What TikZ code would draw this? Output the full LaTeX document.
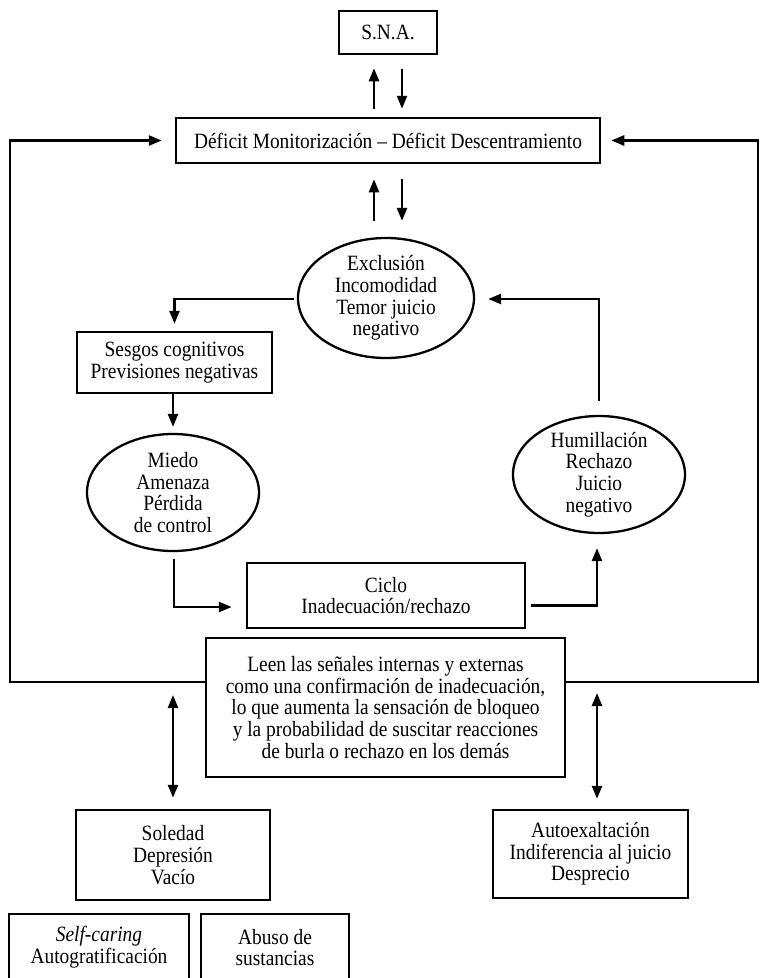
\documentclass[tikz,border=0pt]{standalone}
\usepackage{fontspec}
\setmainfont[FakeStretch=0.89]{Liberation Serif}
\usetikzlibrary{arrows.meta,calc,shapes.geometric}
\begin{document}
\begin{tikzpicture}[x=1pt,y=-1pt,
  every node/.style={font=\fontsize{21.8pt}{21.7pt}\selectfont, align=center, inner sep=0pt},
  boxnode/.style={draw, line width=2.5pt, rectangle},
  ellnode/.style={draw, line width=2.3pt, ellipse},
  arr/.style={line width=2.5pt, -{Triangle[length=13pt,width=10pt]}},
  darr/.style={line width=2.5pt, {Triangle[length=13pt,width=10pt]}-{Triangle[length=13pt,width=10pt]}},
]
\useasboundingbox (0,0) rectangle (760,978);
\clip (0,0) rectangle (760,978);

% boxes
\node[boxnode, minimum width=98pt, minimum height=43pt] (sna) at (388,32.5) {S.N.A.};
\node[boxnode, minimum width=424pt, minimum height=45pt] (deficit) at (388,140.5)
  {D\'eficit Monitorizaci\'on -- D\'eficit Descentramiento};
\node[boxnode, minimum width=195pt, minimum height=61pt] (sesgos) at (174.5,362.5)
  {Sesgos cognitivos\\Previsiones negativas};
\node[boxnode, minimum width=278pt, minimum height=65pt] (ciclo) at (386,595.5)
  {Ciclo\\Inadecuaci\'on/rechazo};
\node[boxnode, minimum width=359pt, minimum height=139pt] (leen) at (385.5,707.5)
  {Leen las se\~nales internas y externas\\como una confirmaci\'on de inadecuaci\'on,\\lo que aumenta la sensaci\'on de bloqueo\\y la probabilidad de suscitar reacciones\\de burla o rechazo en los dem\'as};
\node[boxnode, minimum width=194pt, minimum height=90pt] (soledad) at (173,855)
  {Soledad\\Depresi\'on\\Vac\'io};
\node[boxnode, minimum width=195pt, minimum height=88pt] (autoex) at (590.5,854)
  {Autoexaltaci\'on\\Indiferencia al juicio\\Desprecio};
\node[boxnode, minimum width=180pt, minimum height=67pt] (selfc) at (99,947.5)
  {\textit{Self-caring}\\Autogratificaci\'on};
\node[boxnode, minimum width=148pt, minimum height=67pt] (abuso) at (275,947.5)
  {Abuso de\\sustancias};

% ellipses
\node[ellnode, minimum width=176pt, minimum height=120pt] (excl) at (386,298) {};
\node (excltxt) at (excl.center) {Exclusi\'on\\Incomodidad\\Temor juicio\\negativo};
\node[ellnode, minimum width=172pt, minimum height=117pt] (miedo) at (173,492.5) {};
\node (miedotxt) at (miedo.center) {Miedo\\Amenaza\\P\'erdida\\de control};
\node[ellnode, minimum width=172pt, minimum height=117pt] (humill) at (599,474.5) {};
\node (humilltxt) at (humill.center) {Humillaci\'on\\Rechazo\\Juicio\\negativo};

% corner coordinates
\coordinate (lcorner) at (10,682);
\coordinate (rcorner) at (758,682);

% SNA <-> Deficit
\draw[arr] ($(deficit.north)+(-14,-8)$) -- ($(sna.south)+(-14,13)$);
\draw[arr] ($(sna.south)+(14,14)$) -- ($(deficit.north)+(14,-8)$);

% Deficit <-> Exclusion
\draw[arr] ($(excl.north)+(-12,-16)$) -- ($(deficit.south)+(-14,15)$);
\draw[arr] ($(deficit.south)+(14,15)$) -- ($(excl.north)+(16,-16)$);

% cycle
\draw[arr] ($(excl.west)+(-3,1)$) -| ($(sesgos.north)+(0,-7)$);
\draw[arr] (sesgos.south -| miedo.north) -- ($(miedo.north)+(0,-6)$);
\draw[arr] ($(miedo.south)+(1,7)$) |- ($(ciclo.west)+(-14,11.5)$);
\draw[arr] ($(ciclo.east)+(5,10)$) -| ($(humill.south)+(-2,14)$);
\draw[arr] ($(humill.north)+(0,-14)$) |- ($(excl.east)+(13,1)$);

% feedback loops to Deficit
\draw[arr] ($(leen.west)+(0,-25.5)$) -- (lcorner) |- ($(deficit.west)+(-13,0)$);
\draw[arr] ($(leen.east)+(0,-25.5)$) -- (rcorner) |- ($(deficit.east)+(10,0)$);

% double arrows
\draw[darr] ($(soledad.north |- lcorner)+(0,13)$) -- ($(soledad.north)+(0,-11)$);
\draw[darr] ($(autoex.north |- rcorner)+(6.5,11)$) -- ($(autoex.north)+(6.5,-10)$);
\end{tikzpicture}
\end{document}
